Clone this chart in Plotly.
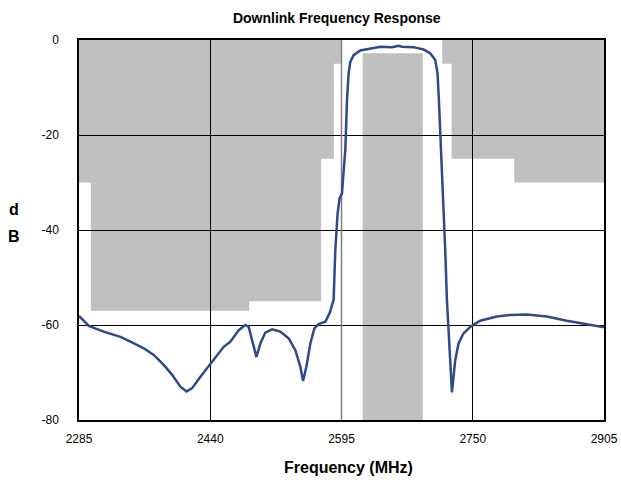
import plotly.graph_objects as go

# Measured response (MHz, dB)
freq = [2285, 2296.6, 2314, 2334, 2345.8, 2361.5, 2373.3, 2385, 2395, 2404.8, 2412,
        2418.6, 2428.4, 2440.2, 2455.9, 2463.8, 2473.6, 2481.5, 2485.4, 2489.4, 2494.5,
        2499.2, 2505, 2513, 2522.8, 2532.6, 2540.5, 2546.4, 2549.6, 2553.5, 2558.2,
        2563, 2568, 2576, 2581, 2583.8, 2585.7, 2587.7, 2588.9, 2590.4, 2592.8, 2595.6,
        2596.7, 2597.4, 2598.3, 2599.5, 2601.5, 2603.4, 2605.4, 2609.3, 2617.2, 2629,
        2640.8, 2654.6, 2658.5, 2662.4, 2666.3, 2680, 2691.9, 2699.8, 2705.7, 2708.4,
        2710, 2711.6, 2715, 2717.5, 2719.5, 2721.4, 2722.6, 2724.2, 2725.4, 2727.3,
        2729.3, 2733.2, 2739, 2747, 2758.8, 2778.5, 2794, 2814, 2837.5, 2861, 2885, 2905]
resp = [-58.1, -60.2, -61.4, -62.5, -63.5, -64.9, -66.3, -68.4, -70.5, -73.0, -74.0,
        -73.3, -70.9, -68.1, -64.6, -63.5, -61.1, -60.0, -60.4, -63.2, -66.7,
        -63.9, -61.6, -60.9, -61.4, -62.8, -65.3, -68.8, -71.8, -68.8, -63.9,
        -60.7, -59.8, -59.3, -57.5, -55.8, -54.7, -44.2, -40.0, -36.5, -33.3, -32.3,
        -29.5, -27.7, -26.0, -23.2, -12.6, -7.0, -4.6, -3.2, -2.2, -1.75,
        -1.4, -1.5, -1.4, -1.2, -1.4, -1.5, -2.0, -2.8, -4.2, -7.0,
        -12.6, -18.9, -33.0, -44.2, -54.7, -60.4, -65.3, -70.9, -74.2, -70.9,
        -67.4, -63.9, -61.8, -60.4, -59.1, -58.2, -57.9, -57.8, -58.2, -59.1, -59.8, -60.5]

# Rejection mask segments (start MHz, end MHz, limit dB) - gray from 0 dB down to limit
mask_start = [2285, 2299, 2486, 2571, 2586, 2714, 2725, 2799]
mask_end = [2299, 2486, 2571, 2586, 2595, 2725, 2799, 2905]
mask_level = [-30, -57, -55, -25, -5, -5, -25, -30]

# Passband mask (start, end, top dB) - gray from top level down to -80
pass_start = [2620]
pass_end = [2691]
pass_top = [-2.8]

x_ticks = [2285, 2440, 2595, 2750, 2905]
y_ticks = [0, -20, -40, -60, -80]
y_tick_text = ["0", "-20", "-40", "-60", "-80"]

MASK = "#C0C0C0"

# Build contiguous step polygons (in data coordinates) from the mask segments
groups = []
for s, e, lv in zip(mask_start, mask_end, mask_level):
    if groups and abs(groups[-1][-1][1] - s) < 1e-9:
        groups[-1].append((s, e, lv))
    else:
        groups.append([(s, e, lv)])

shapes = []
for g in groups:
    pts = [(g[0][0], 0)]
    for s, e, lv in g:
        pts.append((s, lv))
        pts.append((e, lv))
    pts.append((g[-1][1], 0))
    path = "M " + " L ".join(f"{x},{y}" for x, y in pts) + " Z"
    shapes.append(dict(type="path", xref="x", yref="y", path=path,
                       fillcolor=MASK, line=dict(width=0), layer="below"))
for s, e, t in zip(pass_start, pass_end, pass_top):
    shapes.append(dict(type="rect", xref="x", yref="y", x0=s, x1=e, y0=t, y1=-80,
                       fillcolor=MASK, line=dict(width=0), layer="below"))
shapes.append(dict(type="line", xref="x", yref="y", x0=2595, x1=2595, y0=0, y1=-80,
                   line=dict(color="#808080", width=1.5), layer="between"))

fig = go.Figure()
fig.add_trace(go.Scatter(x=freq, y=resp, mode="lines",
                         line=dict(color="#2E4A8C", width=2.5), showlegend=False))

font = "Liberation Sans, Arial, sans-serif"
fig.update_layout(
    width=621, height=485,
    margin=dict(l=79, r=17, t=40, b=65),
    paper_bgcolor="white", plot_bgcolor="white",
    font=dict(family=font, size=12, color="black"),
    title=dict(text="<b>Downlink Frequency Response</b>", xref="paper", x=0.491,
               xanchor="center", y=0.962, yanchor="middle", font=dict(size=14, family=font)),
    shapes=shapes,
    xaxis=dict(range=[2285, 2905], tickvals=x_ticks, showgrid=True, gridcolor="black",
               gridwidth=1, showline=True, linecolor="black", linewidth=1.5, mirror=True,
               zeroline=False, ticks="", ticklabelstandoff=7, automargin=False),
    yaxis=dict(range=[-80, 0], tickvals=y_ticks, ticktext=y_tick_text, showgrid=True,
               gridcolor="black", gridwidth=1, showline=True, linecolor="black",
               linewidth=1.5, mirror=True, zeroline=False, ticks="", ticklabelstandoff=16,
               automargin=False),
    annotations=[
        dict(text="<b>Frequency (MHz)</b>", xref="paper", yref="paper", x=0.513, y=-0.124,
             xanchor="center", yanchor="middle", showarrow=False, font=dict(size=16)),
        dict(text="<b>d</b>", xref="paper", yref="paper", x=-0.124, y=0.553,
             xanchor="center", yanchor="middle", showarrow=False, font=dict(size=16)),
        dict(text="<b>B</b>", xref="paper", yref="paper", x=-0.124, y=0.484,
             xanchor="center", yanchor="middle", showarrow=False, font=dict(size=16)),
    ],
)

fig.write_html("out.html", config={"displayModeBar": False},
               post_script="document.body.style.margin='0';")
